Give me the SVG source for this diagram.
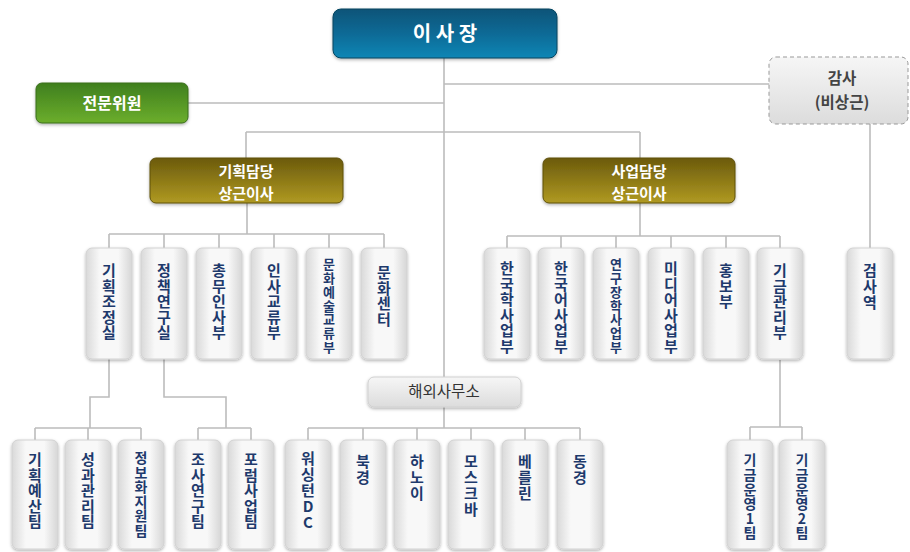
<svg xmlns="http://www.w3.org/2000/svg" width="910" height="552" viewBox="0 0 910 552">
<defs>
<linearGradient id="gBlue" x1="0" y1="0" x2="0" y2="1"><stop offset="0" stop-color="#0a5478"/><stop offset="0.5" stop-color="#0b6a96"/><stop offset="1" stop-color="#0c86b5"/></linearGradient>
<linearGradient id="gGreen" x1="0" y1="0" x2="0" y2="1"><stop offset="0" stop-color="#3f7f1e"/><stop offset="1" stop-color="#6cae2c"/></linearGradient>
<linearGradient id="gGold" x1="0" y1="0" x2="0" y2="1"><stop offset="0" stop-color="#6b5a0c"/><stop offset="1" stop-color="#b09a22"/></linearGradient>
<linearGradient id="gGray" x1="0" y1="0" x2="1" y2="0"><stop offset="0" stop-color="#d9d9d9"/><stop offset="0.3" stop-color="#f8f8f8"/><stop offset="0.7" stop-color="#f8f8f8"/><stop offset="1" stop-color="#d6d6d6"/></linearGradient>
<linearGradient id="gGrayV" x1="0" y1="0" x2="0" y2="1"><stop offset="0" stop-color="#f6f6f6"/><stop offset="1" stop-color="#dcdcdc"/></linearGradient>
<filter id="sh" x="-20%" y="-20%" width="140%" height="140%"><feDropShadow dx="0" dy="1.5" stdDeviation="1.5" flood-color="#000" flood-opacity="0.3"/></filter>
</defs>
<style>
.ln{fill:none;stroke:#bcbcbc;stroke-width:1.6}
.box{fill:url(#gGray);stroke:#d2d2d2;stroke-width:1;filter:url(#sh)}
.vt{font-family:"Noto Sans CJK KR","Noto Sans",sans-serif;font-weight:bold;font-size:15px;fill:#1e3a6c;writing-mode:vertical-rl;text-orientation:upright;letter-spacing:0.5px}
.vs{font-size:13px;letter-spacing:0.7px}
.wt{font-family:"Noto Sans CJK KR","Noto Sans",sans-serif;font-weight:bold;font-size:16px;fill:#ffffff;text-anchor:middle}
.w2{font-size:15px}
.dt{font-family:"Noto Sans CJK KR","Noto Sans",sans-serif;font-weight:bold;font-size:15.5px;fill:#444444;text-anchor:middle}
</style>
<g id="connectors">
<path class="ln" d="M444 58V377M188 103H444M444 84H769M246 132H640M246 132V158M640 132V158"/>
<path class="ln" d="M247 203V234M109 234H384M109 234V248M164 234V248M219 234V248M274 234V248M329 234V248M384 234V248"/>
<path class="ln" d="M640 203V236M507 236H780M507 236V248M561 236V248M616 236V248M671 236V248M726 236V248M780 236V248M870 124V248"/>
<path class="ln" d="M109 359V397H90V428M35 428H141M35 428V440M88 428V440M141 428V440"/>
<path class="ln" d="M164 359V397H226V428M198 428H251M198 428V440M251 428V440"/>
<path class="ln" d="M444 407V428M308 428H580M308 428V440M363 428V440M417 428V440M471 428V440M525 428V440M580 428V440"/>
<path class="ln" d="M780 360V427M750 427H802M750 427V440M802 427V440"/>
</g>
<g id="n-chairman"><rect x="333" y="9" width="224" height="49" rx="8" fill="url(#gBlue)" stroke="#06445f" filter="url(#sh)"/><text class="wt" x="445" y="41" style="font-size:20px">이 사 장</text></g>
<g id="n-advisory"><rect x="36" y="83" width="152" height="40" rx="6" fill="url(#gGreen)" stroke="#3a6e1c" filter="url(#sh)"/><text class="wt" x="112" y="109">전문위원</text></g>
<g id="n-plan-dir"><rect x="150" y="158" width="193" height="45" rx="6" fill="url(#gGold)" stroke="#5e500a" filter="url(#sh)"/><text class="wt w2" x="246" y="177"><tspan x="246">기획담당</tspan><tspan x="246" dy="22">상근이사</tspan></text></g>
<g id="n-biz-dir"><rect x="543" y="158" width="192" height="45" rx="6" fill="url(#gGold)" stroke="#5e500a" filter="url(#sh)"/><text class="wt w2" x="639" y="177"><tspan x="639">사업담당</tspan><tspan x="639" dy="22">상근이사</tspan></text></g>
<g id="n-auditor"><rect x="769" y="57" width="139" height="67" rx="7" fill="url(#gGrayV)" stroke="#999" stroke-dasharray="4 3"/><text class="dt" x="842" y="84"><tspan x="842">감사</tspan><tspan x="842" dy="24">(비상근)</tspan></text></g>
<g id="n-overseas"><rect x="368" y="377" width="153" height="30" rx="6" fill="url(#gGrayV)" stroke="#d0d0d0" filter="url(#sh)"/><text class="dt" x="444" y="397" style="font-weight:normal;fill:#333">해외사무소</text></g>

<g id="n-1"><rect class="box" x="86" y="248" width="46" height="111" rx="6"/><text class="vt" x="109" y="263">기획조정실</text></g>
<g id="n-2"><rect class="box" x="141" y="248" width="46" height="111" rx="6"/><text class="vt" x="164" y="263">정책연구실</text></g>
<g id="n-3"><rect class="box" x="196" y="248" width="46" height="111" rx="6"/><text class="vt" x="219" y="263">총무인사부</text></g>
<g id="n-4"><rect class="box" x="251" y="248" width="46" height="111" rx="6"/><text class="vt" x="274" y="263">인사교류부</text></g>
<g id="n-5"><rect class="box" x="306" y="248" width="46" height="111" rx="6"/><text class="vt vs" x="329" y="258">문화예술교류부</text></g>
<g id="n-6"><rect class="box" x="361" y="248" width="46" height="111" rx="6"/><text class="vt" x="384" y="265">문화센터</text></g>

<g id="n-7"><rect class="box" x="484" y="248" width="46" height="111" rx="6"/><text class="vt" x="507" y="261">한국학사업부</text></g>
<g id="n-8"><rect class="box" x="538" y="248" width="46" height="111" rx="6"/><text class="vt" x="561" y="261">한국어사업부</text></g>
<g id="n-9"><rect class="box" x="593" y="248" width="46" height="111" rx="6"/><text class="vt vs" x="616" y="258">연구장학사업부</text></g>
<g id="n-10"><rect class="box" x="648" y="248" width="46" height="111" rx="6"/><text class="vt" x="671" y="261">미디어사업부</text></g>
<g id="n-11"><rect class="box" x="703" y="248" width="46" height="111" rx="6"/><text class="vt" x="726" y="263">홍보부</text></g>
<g id="n-12"><rect class="box" x="757" y="248" width="46" height="111" rx="6"/><text class="vt" x="780" y="263">기금관리부</text></g>
<g id="n-13"><rect class="box" x="847" y="248" width="46" height="111" rx="6"/><text class="vt" x="870" y="263" style="letter-spacing:1px">검사역</text></g>

<g id="n-14"><rect class="box" x="12" y="440" width="46" height="109" rx="6"/><text class="vt" x="35" y="452">기획예산팀</text></g>
<g id="n-15"><rect class="box" x="65" y="440" width="46" height="109" rx="6"/><text class="vt" x="88" y="452">성과관리팀</text></g>
<g id="n-16"><rect class="box" x="118" y="440" width="46" height="109" rx="6"/><text class="vt" x="141" y="451" style="font-size:14px">정보화지원팀</text></g>
<g id="n-17"><rect class="box" x="175" y="440" width="46" height="109" rx="6"/><text class="vt" x="198" y="452">조사연구팀</text></g>
<g id="n-18"><rect class="box" x="228" y="440" width="46" height="109" rx="6"/><text class="vt" x="251" y="452">포럼사업팀</text></g>

<g id="n-19"><rect class="box" x="285" y="440" width="46" height="109" rx="6"/><text class="vt" x="308" y="451" style="letter-spacing:1px">워싱턴DC</text></g>
<g id="n-20"><rect class="box" x="340" y="440" width="46" height="109" rx="6"/><text class="vt" x="363" y="454" style="letter-spacing:1px">북경</text></g>
<g id="n-21"><rect class="box" x="394" y="440" width="46" height="109" rx="6"/><text class="vt" x="417" y="454" style="letter-spacing:1px">하노이</text></g>
<g id="n-22"><rect class="box" x="448" y="440" width="46" height="109" rx="6"/><text class="vt" x="471" y="454" style="letter-spacing:1px">모스크바</text></g>
<g id="n-23"><rect class="box" x="502" y="440" width="46" height="109" rx="6"/><text class="vt" x="525" y="454" style="letter-spacing:1px">베를린</text></g>
<g id="n-24"><rect class="box" x="557" y="440" width="46" height="109" rx="6"/><text class="vt" x="580" y="454" style="letter-spacing:1px">동경</text></g>

<g id="n-25"><rect class="box" x="727" y="440" width="46" height="109" rx="6"/><text class="vt" x="750" y="453" style="font-size:14px;letter-spacing:0.6px">기금운영1팀</text></g>
<g id="n-26"><rect class="box" x="779" y="440" width="46" height="109" rx="6"/><text class="vt" x="802" y="453" style="font-size:14px;letter-spacing:0.6px">기금운영2팀</text></g>
</svg>
